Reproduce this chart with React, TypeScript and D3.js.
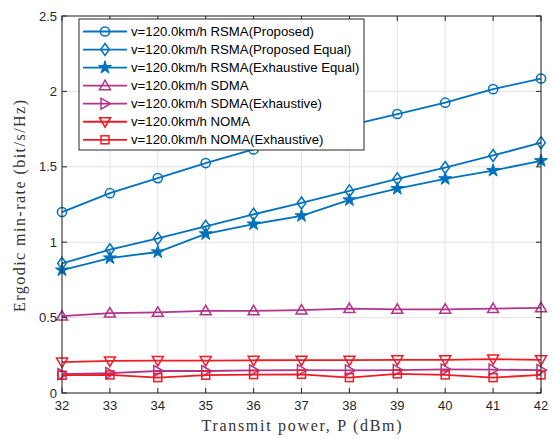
import { scaleLinear, line, symbol, symbolStar } from "d3";

const powers = [32, 33, 34, 35, 36, 37, 38, 39, 40, 41, 42];
const yTicks = [0, 0.5, 1, 1.5, 2, 2.5];

const rsmaProposed = [1.2, 1.325, 1.425, 1.525, 1.615, 1.695, 1.775, 1.85, 1.925, 2.015, 2.085];
const rsmaProposedEqual = [0.86, 0.95, 1.025, 1.105, 1.185, 1.26, 1.34, 1.42, 1.495, 1.575, 1.66];
const rsmaExhaustiveEqual = [0.815, 0.895, 0.935, 1.055, 1.12, 1.175, 1.28, 1.355, 1.42, 1.475, 1.54];
const sdma = [0.51, 0.53, 0.535, 0.545, 0.545, 0.55, 0.56, 0.555, 0.555, 0.56, 0.565];
const sdmaExhaustive = [0.125, 0.132, 0.146, 0.146, 0.15, 0.152, 0.15, 0.152, 0.156, 0.155, 0.152];
const noma = [0.205, 0.213, 0.215, 0.215, 0.217, 0.218, 0.218, 0.22, 0.22, 0.225, 0.22];
const nomaExhaustive = [0.118, 0.12, 0.102, 0.118, 0.122, 0.124, 0.102, 0.127, 0.12, 0.102, 0.12];

const BLUE = "#0072BD";
const PURPLE = "#B2358A";
const RED = "#EE1C25";

type Marker = "circle" | "diamond" | "star" | "up" | "right" | "down" | "square";

const series: { name: string; values: number[]; color: string; marker: Marker }[] = [
  { name: "v=120.0km/h RSMA(Proposed)", values: rsmaProposed, color: BLUE, marker: "circle" },
  { name: "v=120.0km/h RSMA(Proposed Equal)", values: rsmaProposedEqual, color: BLUE, marker: "diamond" },
  { name: "v=120.0km/h RSMA(Exhaustive Equal)", values: rsmaExhaustiveEqual, color: BLUE, marker: "star" },
  { name: "v=120.0km/h SDMA", values: sdma, color: PURPLE, marker: "up" },
  { name: "v=120.0km/h SDMA(Exhaustive)", values: sdmaExhaustive, color: PURPLE, marker: "right" },
  { name: "v=120.0km/h NOMA", values: noma, color: RED, marker: "down" },
  { name: "v=120.0km/h NOMA(Exhaustive)", values: nomaExhaustive, color: RED, marker: "square" },
];

const W = 554;
const H = 439;
const left = 62;
const right = 541;
const top = 16;
const bottom = 393;

const x = scaleLinear().domain([32, 42]).range([left, right]);
const y = scaleLinear().domain([0, 2.5]).range([bottom, top]);

const starPath = symbol().type(symbolStar).size(52)() as string;

function MarkerShape({ kind, cx, cy, color }: { kind: Marker; cx: number; cy: number; color: string }) {
  const common = { fill: "none", stroke: color, strokeWidth: 1.5 };
  switch (kind) {
    case "circle":
      return <circle cx={cx} cy={cy} r={4.6} {...common} />;
    case "diamond":
      return <path d={`M${cx},${cy - 6}L${cx + 4.3},${cy}L${cx},${cy + 6}L${cx - 4.3},${cy}Z`} {...common} />;
    case "star":
      return <path d={starPath} transform={`translate(${cx},${cy})`} fill={color} stroke={color} strokeWidth={1} />;
    case "up":
      return <path d={`M${cx},${cy - 5.5}L${cx + 5.5},${cy + 4}L${cx - 5.5},${cy + 4}Z`} {...common} />;
    case "down":
      return <path d={`M${cx},${cy + 5.5}L${cx + 5.5},${cy - 4}L${cx - 5.5},${cy - 4}Z`} {...common} />;
    case "right":
      return <path d={`M${cx + 5.5},${cy}L${cx - 4},${cy - 5.5}L${cx - 4},${cy + 5.5}Z`} {...common} />;
    case "square":
      return <rect x={cx - 4} y={cy - 4} width={8} height={8} {...common} />;
  }
}

export default function App() {
  const lineGen = line<number>()
    .x((_, i) => x(powers[i]))
    .y((d) => y(d));

  const legX = 79;
  const legY = 19;
  const legW = 285;
  const legH = 131;
  const rowH = 18.05;

  return (
    <svg
      width={W}
      height={H}
      style={{ position: "absolute", left: 0, top: 0, background: "#fff" }}
      fontFamily="'Liberation Sans', Arial, sans-serif"
    >
      {/* Grid */}
      {powers.map((p) => (
        <line key={`gx${p}`} x1={x(p)} x2={x(p)} y1={top} y2={bottom} stroke="#e3e3e3" strokeWidth={1} />
      ))}
      {yTicks.map((t) => (
        <line key={`gy${t}`} x1={left} x2={right} y1={y(t)} y2={y(t)} stroke="#e3e3e3" strokeWidth={1} />
      ))}

      {/* Series */}
      {series.map((s) => (
        <g key={s.name}>
          <path d={lineGen(s.values) as string} fill="none" stroke={s.color} strokeWidth={1.8} />
          {s.values.map((v, i) => (
            <MarkerShape key={i} kind={s.marker} cx={x(powers[i])} cy={y(v)} color={s.color} />
          ))}
        </g>
      ))}

      {/* Frame & ticks */}
      <rect x={left} y={top} width={right - left} height={bottom - top} fill="none" stroke="#262626" strokeWidth={1} />
      {powers.map((p) => (
        <g key={`tx${p}`}>
          <line x1={x(p)} x2={x(p)} y1={bottom} y2={bottom - 5} stroke="#262626" />
          <line x1={x(p)} x2={x(p)} y1={top} y2={top + 5} stroke="#262626" />
          <text x={x(p)} y={bottom + 17} textAnchor="middle" fontSize={13} fill="#262626">
            {p}
          </text>
        </g>
      ))}
      {yTicks.map((t) => (
        <g key={`ty${t}`}>
          <line x1={left} x2={left + 5} y1={y(t)} y2={y(t)} stroke="#262626" />
          <line x1={right} x2={right - 5} y1={y(t)} y2={y(t)} stroke="#262626" />
          <text x={left - 5} y={y(t) + 4.5} textAnchor="end" fontSize={13} fill="#262626">
            {t}
          </text>
        </g>
      ))}

      {/* Axis labels */}
      <text
        x={(left + right) / 2}
        y={431}
        textAnchor="middle"
        fontSize={16}
        textLength={200}
        lengthAdjust="spacing"
        fill="#333"
        fontFamily="'Liberation Serif', 'DejaVu Serif', serif"
      >
        Transmit power, P (dBm)
      </text>
      <text
        transform={`translate(25,${206}) rotate(-90)`}
        textAnchor="middle"
        fontSize={16}
        textLength={212}
        lengthAdjust="spacing"
        fill="#333"
        fontFamily="'Liberation Serif', 'DejaVu Serif', serif"
      >
        Ergodic min-rate (bit/s/Hz)
      </text>

      {/* Legend */}
      <rect x={legX} y={legY} width={legW} height={legH} fill="#fff" stroke="#262626" strokeWidth={1} />
      {series.map((s, i) => {
        const cy = legY + 12.5 + i * rowH;
        return (
          <g key={`leg${i}`}>
            <line x1={legX + 4} x2={legX + 48} y1={cy} y2={cy} stroke={s.color} strokeWidth={1.8} />
            <MarkerShape kind={s.marker} cx={legX + 26} cy={cy} color={s.color} />
            <text x={legX + 52} y={cy + 4.5} fontSize={13.2} fill="#000">
              {s.name}
            </text>
          </g>
        );
      })}
    </svg>
  );
}
